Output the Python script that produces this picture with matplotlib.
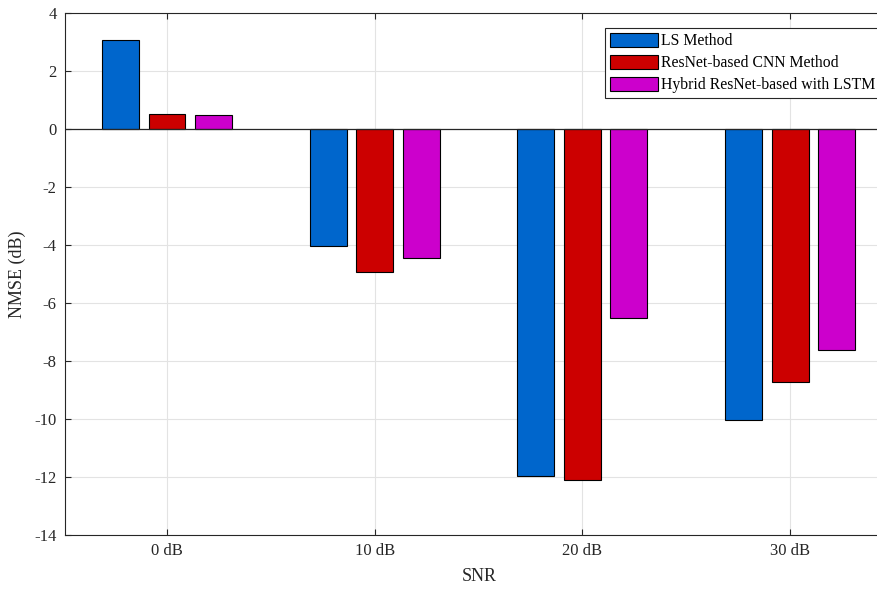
import numpy as np
import matplotlib
matplotlib.use("Agg")
import matplotlib.pyplot as plt

plt.rcParams['font.family'] = ['Liberation Serif', 'DejaVu Serif']
plt.rcParams['axes.unicode_minus'] = False

snr_labels = ['0 dB', '10 dB', '20 dB', '30 dB']
series_names = ['LS Method', 'ResNet-based CNN Method', 'Hybrid ResNet-based with LSTM']
ls_nmse = [3.07, -4.02, -11.95, -10.02]
cnn_nmse = [0.52, -4.93, -12.12, -8.72]
hybrid_nmse = [0.49, -4.45, -6.53, -7.63]
colors = ['#0066cc', '#cc0000', '#cc00cc']

fig = plt.figure(figsize=(8.77, 5.89), dpi=100)
ax = fig.add_axes([65 / 877, 0.0917, 829 / 877, 0.8863])

x = np.arange(1, len(snr_labels) + 1)
offset = 0.224
width = 0.178
for i, (vals, name, c) in enumerate(zip([ls_nmse, cnn_nmse, hybrid_nmse], series_names, colors)):
    ax.bar(x + (i - 1) * offset, vals, width, color=c, edgecolor='black',
           linewidth=0.8, label=name, zorder=3)

ax.axhline(0, color='#262626', linewidth=0.9, zorder=4)

ax.set_xlim(0.509, 4.5)
ax.set_ylim(-14, 4)
ax.set_xticks(x)
ax.set_xticklabels(snr_labels)
ax.set_yticks(np.arange(-14, 5, 2))
ax.tick_params(direction='in', length=4, width=0.8, labelsize=12, colors='#262626',
               top=True, right=True)
ax.tick_params(axis='y', pad=6)
ax.tick_params(axis='x', pad=6)
ax.grid(True, color='#e3e3e3', linewidth=0.8, zorder=0)
for s in ax.spines.values():
    s.set_color('#262626')
    s.set_linewidth(0.8)

ax.set_xlabel('SNR', fontsize=13, color='#262626', labelpad=6)
ax.set_ylabel('NMSE (dB)', fontsize=13, color='#262626', labelpad=6)

leg = ax.legend(loc='upper left', bbox_to_anchor=(605 / 877, 1 - 28 / 589),
                bbox_transform=fig.transFigure, fontsize=11.3, fancybox=False,
                framealpha=1, edgecolor='#262626', handlelength=3.05,
                handleheight=1.05, handletextpad=0.2, labelspacing=0.34,
                borderpad=0.3, borderaxespad=0)
leg.get_frame().set_linewidth(0.8)

fig.savefig('out.png', dpi=100)
